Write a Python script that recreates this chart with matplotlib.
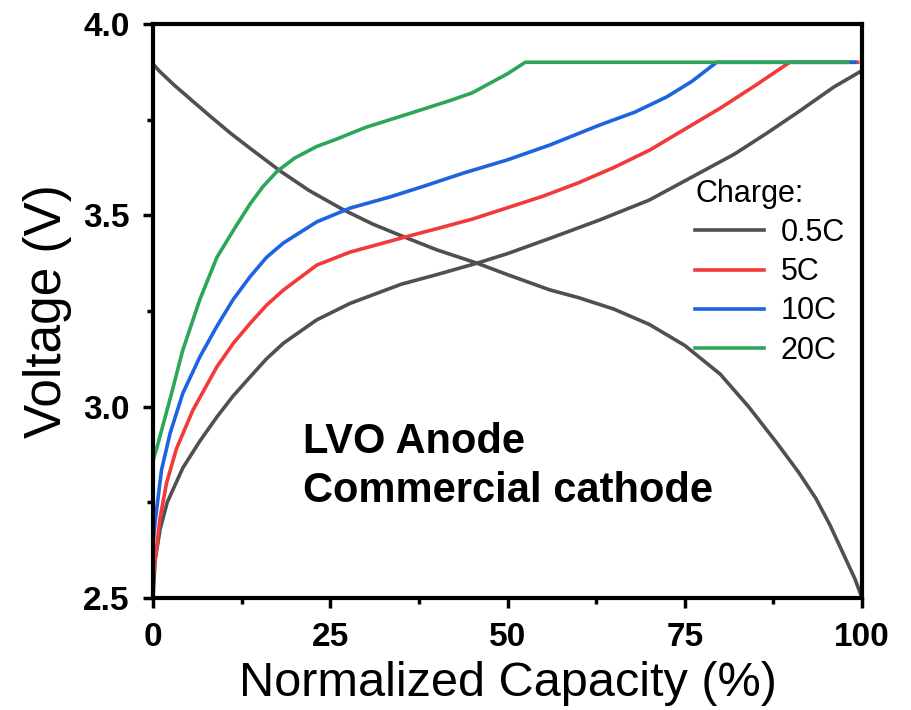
import numpy as np
import matplotlib.pyplot as plt

plt.rcParams['font.family'] = ['Liberation Sans', 'DejaVu Sans']

# 0.5C discharge (falling curve)
dis_x = [0, 1, 3, 5, 8, 10.9, 13.7, 18, 22, 26.8, 31, 35.5, 40, 45.7, 50, 56, 60, 65, 70, 75, 80,
         84, 88, 91, 93.5, 95.5, 97.5, 99, 100]
dis_v = [3.895, 3.875, 3.84, 3.808, 3.76, 3.715, 3.675, 3.615, 3.565, 3.515, 3.477, 3.443, 3.41, 3.375,
         3.345, 3.305, 3.285, 3.255, 3.215, 3.16, 3.085, 3.0, 2.905, 2.83, 2.76, 2.69, 2.61, 2.55, 2.5]

# charge curves
c05_x = [0, 0.3, 1, 2, 4.2, 6.6, 9, 11.3, 13.7, 16, 18.4, 23.1, 27.8, 35, 40, 45.7, 50, 56, 63, 70, 77,
         82, 86.6, 91, 96, 99.7]
c05_v = [2.5, 2.6, 2.68, 2.75, 2.84, 2.91, 2.973, 3.028, 3.078, 3.125, 3.166, 3.227, 3.27, 3.32, 3.345,
         3.375, 3.40, 3.44, 3.488, 3.54, 3.61, 3.66, 3.715, 3.77, 3.835, 3.875]

c5_x = [0, 0.3, 1, 1.9, 3.3, 5.6, 9, 11.3, 13.7, 16, 18.4, 23.1, 27.8, 35.5, 40, 45, 50, 55, 60, 65, 70,
        75, 80, 85, 89.8, 99.4]
c5_v = [2.55, 2.6, 2.71, 2.80, 2.89, 2.99, 3.104, 3.165, 3.218, 3.265, 3.305, 3.37, 3.404, 3.443, 3.465,
        3.49, 3.52, 3.55, 3.585, 3.625, 3.67, 3.725, 3.78, 3.84, 3.9, 3.9]

c10_x = [0, 0.3, 1.2, 2.4, 4.2, 6.6, 9, 11.3, 13.7, 16, 18.4, 23.1, 27.8, 33.4, 38, 43.7, 50, 56, 63, 68,
         72.5, 76, 79.5, 99]
c10_v = [2.64, 2.7, 2.835, 2.93, 3.035, 3.13, 3.21, 3.28, 3.34, 3.39, 3.428, 3.483, 3.519, 3.548, 3.575,
         3.61, 3.645, 3.684, 3.736, 3.77, 3.81, 3.85, 3.9, 3.9]

c20_x = [0, 0.5, 2.4, 4.2, 6.6, 9, 11.3, 13.7, 15.5, 17.5, 20, 23.1, 26, 30, 36, 41.9, 45, 47, 50, 52.5, 98]
c20_v = [2.86, 2.89, 3.02, 3.148, 3.28, 3.39, 3.46, 3.53, 3.575, 3.615, 3.65, 3.68, 3.70, 3.73, 3.765,
         3.80, 3.82, 3.84, 3.87, 3.9, 3.9]

labels = ['0.5C', '5C', '10C', '20C']
colors = ['#505050', '#f23a3a', '#1e63e0', '#2ea65a']

fig = plt.figure(figsize=(9.12, 7.1), dpi=100)
ax = fig.add_axes([0.1678, 0.1577, 0.7774, 0.8085])

lw = 2.6
ax.plot(dis_x, dis_v, color=colors[0], lw=lw)
ax.plot(c05_x, c05_v, color=colors[0], lw=lw, label=labels[0])
ax.plot(c5_x, c5_v, color=colors[1], lw=lw, label=labels[1])
ax.plot(c10_x, c10_v, color=colors[2], lw=lw, label=labels[2])
ax.plot(c20_x, c20_v, color=colors[3], lw=lw, label=labels[3])

ax.set_xlim(0, 100)
ax.set_ylim(2.5, 4.0)
ax.set_xticks([0, 25, 50, 75, 100])
ax.set_yticks([2.5, 3.0, 3.5, 4.0])
ax.set_xticks([12.5, 37.5, 62.5, 87.5], minor=True)
ax.set_yticks([2.75, 3.25, 3.75], minor=True)
ax.tick_params(which='major', length=7, width=2.5, labelsize=24, pad=10)
ax.tick_params(which='minor', length=4, width=2.5)
for t in ax.get_xticklabels() + ax.get_yticklabels():
    t.set_fontweight('bold')
for s in ax.spines.values():
    s.set_linewidth(3)

ax.set_xlabel('Normalized Capacity (%)', fontsize=35, labelpad=6)
ax.set_ylabel('Voltage (V)', fontsize=37, labelpad=8)

ax.text(21.2, 2.879, 'LVO Anode', fontsize=30, fontweight='bold', va='baseline')
ax.text(21.2, 2.751, 'Commercial cathode', fontsize=30, fontweight='bold', va='baseline')

leg = ax.legend(loc='upper left', bbox_to_anchor=(0.765, 0.73), frameon=False,
                title='Charge:', fontsize=22, title_fontsize=22,
                handlelength=2.25, handletextpad=0.55, labelspacing=0.3,
                borderaxespad=0, borderpad=0)
leg._legend_box.align = 'left'

fig.savefig('out.png', dpi=100)
